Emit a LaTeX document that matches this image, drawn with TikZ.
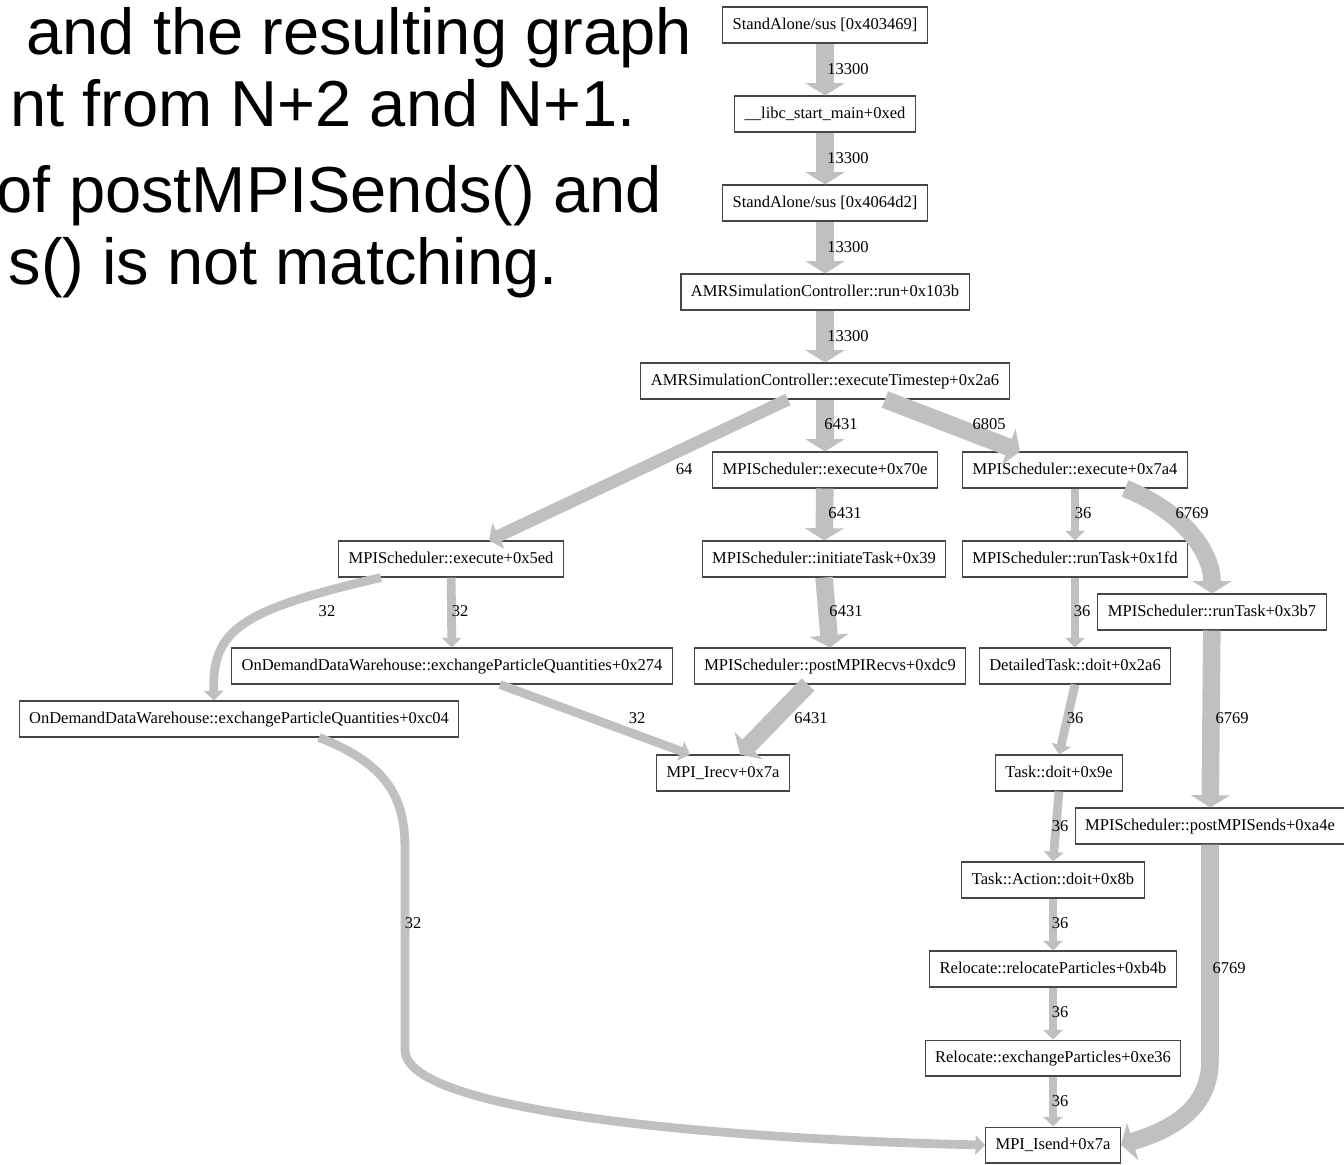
\documentclass[tikz,border=0pt]{standalone}
\usepackage{fontspec}
\setmainfont{Liberation Serif}
\newfontfamily\headfont{Liberation Sans}
\usetikzlibrary{arrows.meta,calc}
\definecolor{edgegray}{RGB}{192,192,192}
\definecolor{boxgray}{RGB}{70,70,70}
\begin{document}
\begin{tikzpicture}[x=0.02cm, y=-0.02cm,
    head/.style={font=\headfont\fontsize{37}{44}\selectfont, inner sep=0pt},
    fn/.style={draw=boxgray, line width=0.6pt, font=\fontsize{9.4}{11}\selectfont,
      minimum height=0.72cm, inner xsep=0.2cm, text height=0.7em, text depth=0.2em},
    wt/.style={font=\fontsize{9.4}{11}\selectfont, inner sep=0pt},
    bigflow/.style={draw=edgegray, line width=10pt, -{Triangle[width=22pt, length=7pt]}},
    midflow/.style={draw=edgegray, line width=7pt, -{Triangle[width=16pt, length=6pt]}},
    lowflow/.style={draw=edgegray, line width=5pt, -{Triangle[width=11pt, length=5.5pt]}}]
  \useasboundingbox (0, 0) rectangle (1344, 1164);
  \clip (0, 0) rectangle (1344, 1164);
  % slide text, cut at the left
  \node[head, anchor=base east] (T1) at (692, 54) {and the resulting graph};
  \node[head, anchor=base east] (T2) at (636, 126) {nt from N+2 and N+1.};
  \node[head, anchor=base east] (T3) at (662, 212) {of postMPISends() and};
  \node[head, anchor=base east] (T4) at (558, 284) {s() is not matching.};
  % call graph
  \node[fn] (A) at (825, 25) {StandAlone/sus [0x403469]};
  \node[fn] (B) at (825, 114) {\_\_libc\_start\_main+0xed};
  \node[fn] (C) at (825, 203) {StandAlone/sus [0x4064d2]};
  \node[fn] (D) at (825, 292) {AMRSimulationController::run+0x103b};
  \node[fn] (E) at (825, 381) {AMRSimulationController::executeTimestep+0x2a6};
  \node[fn] (F) at (825, 470) {MPIScheduler::execute+0x70e};
  \node[fn] (G) at (1075, 470) {MPIScheduler::execute+0x7a4};
  \node[fn] (H) at (451, 559) {MPIScheduler::execute+0x5ed};
  \node[fn] (I) at (824, 559) {MPIScheduler::initiateTask+0x39};
  \node[fn] (J) at (1075, 559) {MPIScheduler::runTask+0x1fd};
  \node[fn] (K) at (1212, 612) {MPIScheduler::runTask+0x3b7};
  \node[fn] (L) at (452, 666) {OnDemandDataWarehouse::exchangeParticleQuantities+0x274};
  \node[fn] (M) at (830, 666) {MPIScheduler::postMPIRecvs+0xdc9};
  \node[fn] (N) at (1075, 666) {DetailedTask::doit+0x2a6};
  \node[fn] (O) at (239, 719) {OnDemandDataWarehouse::exchangeParticleQuantities+0xc04};
  \node[fn] (P) at (723, 773) {MPI\_Irecv+0x7a};
  \node[fn] (Q) at (1059, 773) {Task::doit+0x9e};
  \node[fn] (R) at (1210, 826) {MPIScheduler::postMPISends+0xa4e};
  \node[fn] (S) at (1053, 880) {Task::Action::doit+0x8b};
  \node[fn] (U) at (1053, 969) {Relocate::relocateParticles+0xb4b};
  \node[fn] (V) at (1053, 1058) {Relocate::exchangeParticles+0xe36};
  \node[fn] (W) at (1053, 1145) {MPI\_Isend+0x7a};
  \draw[bigflow] (A) -- (B);
  \draw[bigflow] (B) -- (C);
  \draw[bigflow] (C) -- (D);
  \draw[bigflow] (D) -- (E);
  \draw[bigflow] (E) -- (F);
  \draw[bigflow] ($(E.south)+(60, 0)$) -- ($(G.north)+(-55, 0)$);
  \draw[midflow] ($(E.south)+(-37, 0)$) -- ($(H.north)+(38, 0)$);
  \draw[bigflow] (F) -- (I);
  \draw[lowflow] (G) -- (J);
  \draw[bigflow] ($(G.south)+(50, 0)$) .. controls (1180, 510) and (1212, 550) .. (K.north);
  \draw[lowflow] (H) -- (L);
  \draw[lowflow] ($(H.south)+(-70, 0)$) .. controls (240, 610) and (212, 630) .. ($(O.north)+(-25, 0)$);
  \draw[bigflow] (I.south) -- (M.north);
  \draw[lowflow] (J) -- (N);
  \draw[bigflow] (K) -- (R);
  \draw[lowflow] ($(L.south)+(48, 0)$) -- ($(P.north)+(-33, 0)$);
  \draw[bigflow] ($(M.south)+(-22, 0)$) -- ($(P.north)+(17, 0)$);
  \draw[lowflow] (N.south) -- (Q.north);
  \draw[lowflow] ($(O.south)+(80, 0)$) .. controls (390, 765) and (405, 800) .. (405, 850)
    -- (405, 1050) .. controls (405, 1115) and (750, 1140) .. (W.west);
  \draw[lowflow] (Q.south) -- (S.north);
  \draw[bigflow] (R.south) -- (1210, 1060) .. controls (1210, 1110) and (1170, 1130) .. (W.east);
  \draw[lowflow] (S) -- (U);
  \draw[lowflow] (U) -- (V);
  \draw[lowflow] (V) -- (W);
  % weights
  \node[wt] (w1) at (848, 69) {13300};
  \node[wt] (w2) at (848, 158) {13300};
  \node[wt] (w3) at (848, 247) {13300};
  \node[wt] (w4) at (848, 336) {13300};
  \node[wt] (w5) at (841, 424) {6431};
  \node[wt] (w6) at (989, 424) {6805};
  \node[wt] (w7) at (684, 469) {64};
  \node[wt] (w8) at (845, 513) {6431};
  \node[wt] (w9) at (1083, 513) {36};
  \node[wt] (w10) at (1192, 513) {6769};
  \node[wt] (w11) at (327, 611) {32};
  \node[wt] (w12) at (460, 611) {32};
  \node[wt] (w13) at (846, 611) {6431};
  \node[wt] (w14) at (1082, 611) {36};
  \node[wt] (w15) at (637, 718) {32};
  \node[wt] (w16) at (811, 718) {6431};
  \node[wt] (w17) at (1075, 718) {36};
  \node[wt] (w18) at (1232, 718) {6769};
  \node[wt] (w19) at (1060, 826) {36};
  \node[wt] (w20) at (413, 923) {32};
  \node[wt] (w21) at (1060, 923) {36};
  \node[wt] (w22) at (1229, 968) {6769};
  \node[wt] (w23) at (1060, 1012) {36};
  \node[wt] (w24) at (1060, 1101) {36};
\end{tikzpicture}
\end{document}
